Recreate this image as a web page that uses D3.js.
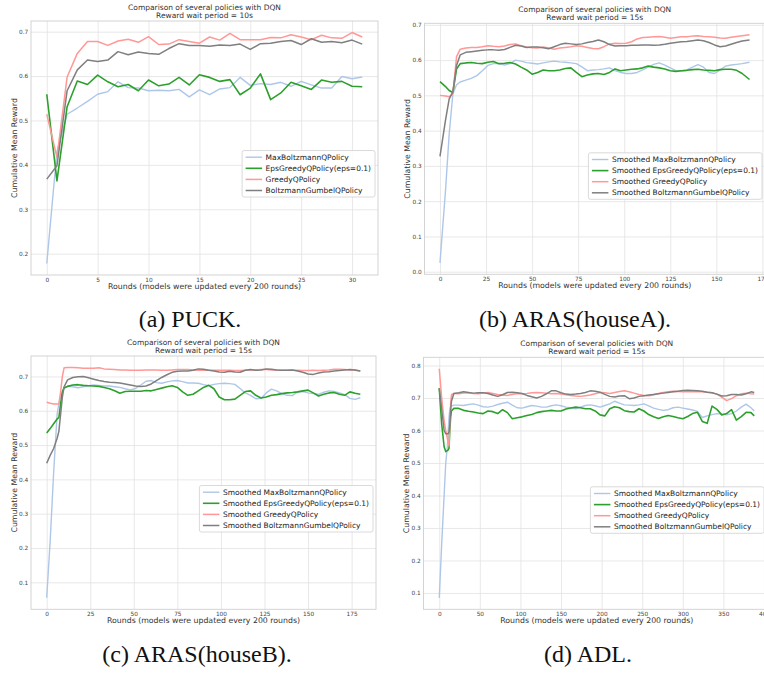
<!DOCTYPE html>
<html>
<head>
<meta charset="utf-8">
<script src="https://d3js.org/d3.v7.min.js"></script>
<style>
  body { margin: 0; background: #fff; }
  svg { display: block; }
</style>
</head>
<body>
<div id="chart"></div>
<script>
// ---- data ----
var policyNames = ["MaxBoltzmannQPolicy", "EpsGreedyQPolicy(eps=0.1)", "GreedyQPolicy", "BoltzmannGumbelQPolicy"];
var smoothedNames = ["Smoothed MaxBoltzmannQPolicy", "Smoothed EpsGreedyQPolicy(eps=0.1)", "Smoothed GreedyQPolicy", "Smoothed BoltzmannGumbelQPolicy"];
var titleLine = "Comparison of several policies with DQN";
var waitPeriods = ["10s", "15s", "15s", "15s"];
var captions = ["(a) PUCK.", "(b) ARAS(houseA).", "(c) ARAS(houseB).", "(d) ADL."];
var xLabel = "Rounds (models were updated every 200 rounds)";
var yLabel = "Cumulative Mean Reward";

// (a) PUCK
var puckRounds = [0, 1, 2, 3, 4, 5, 6, 7, 8, 9, 10, 11, 12, 13, 14, 15, 16, 17, 18, 19, 20, 21, 22, 23, 24, 25, 26, 27, 28, 29, 30, 31];
var puckMaxBoltzmann = [0.178, 0.43, 0.514, 0.528, 0.543, 0.559, 0.565, 0.587, 0.574, 0.573, 0.567, 0.568, 0.567, 0.570, 0.553, 0.569, 0.558, 0.571, 0.574, 0.597, 0.579, 0.583, 0.581, 0.586, 0.577, 0.588, 0.580, 0.573, 0.573, 0.599, 0.594, 0.598];
var puckEpsGreedy = [0.559, 0.364, 0.531, 0.589, 0.581, 0.602, 0.587, 0.576, 0.581, 0.567, 0.591, 0.578, 0.582, 0.597, 0.580, 0.603, 0.597, 0.588, 0.592, 0.558, 0.573, 0.605, 0.547, 0.562, 0.586, 0.578, 0.570, 0.591, 0.586, 0.588, 0.577, 0.576];
var puckGreedy = [0.514, 0.417, 0.598, 0.651, 0.678, 0.678, 0.669, 0.679, 0.683, 0.676, 0.689, 0.671, 0.672, 0.682, 0.678, 0.674, 0.688, 0.681, 0.696, 0.682, 0.682, 0.682, 0.687, 0.686, 0.693, 0.688, 0.682, 0.692, 0.686, 0.685, 0.698, 0.688];
var puckGumbel = [0.368, 0.398, 0.567, 0.614, 0.636, 0.633, 0.636, 0.655, 0.648, 0.654, 0.651, 0.649, 0.662, 0.673, 0.669, 0.669, 0.667, 0.670, 0.669, 0.672, 0.660, 0.673, 0.674, 0.678, 0.680, 0.671, 0.684, 0.676, 0.678, 0.675, 0.681, 0.672];
var puckXTicks = [0, 5, 10, 15, 20, 25, 30];
var puckYTicks = [0.2, 0.3, 0.4, 0.5, 0.6, 0.7];

// (b) ARAS houseA
var arasARounds = [0, 3, 5, 7, 9, 11,
  14, 17, 20, 23, 26, 29, 32, 35, 38, 41,
  44, 47, 50, 53, 56, 59, 62, 65, 68, 71,
  74, 77, 80, 83, 86, 89, 92, 95, 98, 101,
  104, 107, 110, 113, 116, 119, 122, 125, 128, 131,
  134, 137, 140, 143, 146, 149, 152, 155, 158, 161,
  164, 168];
var arasAMaxBoltzmann = [0.025, 0.23, 0.39, 0.505, 0.530, 0.538,
  0.543, 0.548, 0.556, 0.570, 0.585, 0.590, 0.590, 0.586, 0.590, 0.600,
  0.597, 0.593, 0.591, 0.589, 0.592, 0.595, 0.597, 0.595, 0.594, 0.592,
  0.590, 0.581, 0.570, 0.572, 0.573, 0.575, 0.578, 0.570, 0.565, 0.562,
  0.562, 0.565, 0.572, 0.580, 0.588, 0.592, 0.586, 0.578, 0.570, 0.569,
  0.572, 0.580, 0.587, 0.580, 0.565, 0.562, 0.572, 0.583, 0.586, 0.588,
  0.590, 0.594];
var arasAEpsGreedy = [0.539, 0.525, 0.514, 0.508, 0.575, 0.590,
  0.592, 0.593, 0.591, 0.590, 0.594, 0.596, 0.590, 0.591, 0.593, 0.589,
  0.580, 0.572, 0.560, 0.565, 0.572, 0.570, 0.570, 0.572, 0.576, 0.578,
  0.565, 0.553, 0.558, 0.561, 0.562, 0.559, 0.565, 0.575, 0.570, 0.572,
  0.574, 0.575, 0.578, 0.583, 0.580, 0.578, 0.575, 0.570, 0.568, 0.570,
  0.571, 0.573, 0.574, 0.572, 0.571, 0.570, 0.573, 0.574, 0.574, 0.571,
  0.562, 0.545];
var arasAGreedy = [0.500, 0.498, 0.496, 0.505, 0.610, 0.631,
  0.634, 0.636, 0.636, 0.638, 0.641, 0.639, 0.638, 0.640, 0.644, 0.646,
  0.641, 0.637, 0.635, 0.634, 0.637, 0.634, 0.631, 0.634, 0.636, 0.638,
  0.641, 0.639, 0.636, 0.633, 0.632, 0.638, 0.646, 0.648, 0.647, 0.648,
  0.652, 0.660, 0.664, 0.665, 0.666, 0.667, 0.665, 0.662, 0.664, 0.666,
  0.666, 0.668, 0.669, 0.667, 0.666, 0.665, 0.663, 0.662, 0.665, 0.667,
  0.669, 0.672];
var arasAGumbel = [0.327, 0.43, 0.49, 0.51, 0.585, 0.615,
  0.622, 0.624, 0.626, 0.628, 0.629, 0.629, 0.628, 0.630, 0.636, 0.642,
  0.640, 0.636, 0.637, 0.637, 0.635, 0.632, 0.638, 0.644, 0.648, 0.646,
  0.644, 0.646, 0.650, 0.653, 0.657, 0.652, 0.644, 0.640, 0.641, 0.641,
  0.642, 0.642, 0.643, 0.643, 0.642, 0.643, 0.645, 0.648, 0.650, 0.652,
  0.653, 0.655, 0.657, 0.655, 0.650, 0.643, 0.638, 0.640, 0.645, 0.650,
  0.654, 0.657];
var arasAXTicks = [0, 25, 50, 75, 100, 125, 150, 175];
var arasAYTicks = [0.0, 0.1, 0.2, 0.3, 0.4, 0.5, 0.6, 0.7];

// (c) ARAS houseB
var arasBRounds = [0, 2, 4, 6, 7, 8, 9, 10,
  12, 15, 18, 21, 24, 27, 30, 33, 36, 39,
  42, 45, 48, 51, 54, 57, 60, 63, 66, 69,
  72, 75, 78, 81, 84, 87, 90, 93, 96, 99,
  102, 105, 108, 111, 114, 117, 120, 123, 126, 129,
  132, 135, 138, 141, 144, 147, 150, 153, 156, 159,
  162, 165, 168, 171, 174, 177, 180];
var arasBMaxBoltzmann = [0.055, 0.22, 0.42, 0.59, 0.62, 0.64, 0.655, 0.665,
  0.672, 0.670, 0.667, 0.670, 0.673, 0.675, 0.674, 0.672, 0.672, 0.670,
  0.668, 0.664, 0.661, 0.665, 0.675, 0.686, 0.688, 0.682, 0.680, 0.684,
  0.687, 0.688, 0.685, 0.681, 0.681, 0.680, 0.676, 0.673, 0.677, 0.679,
  0.680, 0.679, 0.677, 0.665, 0.652, 0.645, 0.635, 0.636, 0.652, 0.663,
  0.658, 0.650, 0.645, 0.644, 0.655, 0.656, 0.652, 0.650, 0.648, 0.654,
  0.658, 0.656, 0.652, 0.647, 0.636, 0.633, 0.638];
var arasBEpsGreedy = [0.535, 0.548, 0.562, 0.576, 0.580, 0.620, 0.655, 0.667,
  0.671, 0.675, 0.676, 0.674, 0.673, 0.672, 0.671, 0.668, 0.664, 0.658,
  0.651, 0.656, 0.657, 0.657, 0.657, 0.659, 0.658, 0.662, 0.666, 0.670,
  0.673, 0.668, 0.655, 0.645, 0.648, 0.658, 0.668, 0.674, 0.664, 0.640,
  0.632, 0.632, 0.634, 0.645, 0.656, 0.658, 0.645, 0.637, 0.640, 0.645,
  0.647, 0.650, 0.652, 0.653, 0.655, 0.658, 0.660, 0.652, 0.643, 0.648,
  0.652, 0.653, 0.648, 0.645, 0.655, 0.651, 0.648];
var arasBGreedy = [0.625, 0.622, 0.620, 0.620, 0.620, 0.655, 0.700, 0.725,
  0.726, 0.726, 0.725, 0.724, 0.724, 0.724, 0.725, 0.722, 0.721, 0.720,
  0.719, 0.719, 0.718, 0.718, 0.718, 0.719, 0.719, 0.719, 0.718, 0.718,
  0.719, 0.720, 0.720, 0.720, 0.719, 0.718, 0.718, 0.718, 0.718, 0.718,
  0.718, 0.718, 0.717, 0.717, 0.718, 0.719, 0.719, 0.720, 0.720, 0.719,
  0.719, 0.718, 0.718, 0.718, 0.718, 0.717, 0.717, 0.718, 0.717, 0.718,
  0.719, 0.721, 0.721, 0.720, 0.719, 0.718, 0.716];
var arasBGumbel = [0.447, 0.47, 0.49, 0.52, 0.54, 0.59, 0.64, 0.67,
  0.690, 0.697, 0.699, 0.700, 0.696, 0.692, 0.688, 0.685, 0.683, 0.682,
  0.681, 0.678, 0.675, 0.672, 0.671, 0.672, 0.678, 0.688, 0.697, 0.705,
  0.712, 0.715, 0.716, 0.716, 0.718, 0.722, 0.721, 0.718, 0.716, 0.713,
  0.712, 0.715, 0.713, 0.712, 0.718, 0.720, 0.718, 0.719, 0.722, 0.721,
  0.719, 0.718, 0.718, 0.719, 0.716, 0.712, 0.707, 0.706, 0.710, 0.713,
  0.714, 0.716, 0.717, 0.719, 0.720, 0.719, 0.716];
var arasBXTicks = [0, 25, 50, 75, 100, 125, 150, 175];
var arasBYTicks = [0.1, 0.2, 0.3, 0.4, 0.5, 0.6, 0.7];

// (d) ADL
var adlRounds = [0, 3, 6, 8, 10, 11, 12, 13, 14, 15, 18,
  24, 30, 36, 42, 48, 54, 60, 66, 72, 78,
  84, 90, 96, 102, 108, 114, 120, 126, 132, 138,
  144, 150, 156, 162, 168, 174, 180, 186, 192, 198,
  204, 210, 216, 222, 228, 234, 240, 246, 252, 258,
  264, 270, 276, 282, 288, 294, 300, 306, 312, 318,
  324, 330, 336, 342, 348, 354, 360, 366, 372, 378,
  384, 388];
var adlMaxBoltzmann = [0.085, 0.25, 0.40, 0.50, 0.55, 0.60, 0.64, 0.665, 0.672, 0.675, 0.678,
  0.678, 0.677, 0.680, 0.682, 0.678, 0.673, 0.672, 0.675, 0.680, 0.684,
  0.687, 0.678, 0.670, 0.669, 0.673, 0.677, 0.675, 0.672, 0.672, 0.676,
  0.679, 0.676, 0.672, 0.670, 0.667, 0.672, 0.677, 0.679, 0.676, 0.672,
  0.677, 0.682, 0.690, 0.684, 0.679, 0.678, 0.677, 0.679, 0.682, 0.676,
  0.669, 0.665, 0.662, 0.664, 0.670, 0.672, 0.669, 0.666, 0.663, 0.659,
  0.640, 0.645, 0.649, 0.652, 0.651, 0.648, 0.652, 0.660, 0.672, 0.681,
  0.670, 0.660];
var adlEpsGreedy = [0.73, 0.62, 0.55, 0.535, 0.538, 0.54, 0.545, 0.60, 0.64, 0.66, 0.668,
  0.668, 0.662, 0.659, 0.657, 0.654, 0.652, 0.660, 0.658, 0.652, 0.664,
  0.655, 0.636, 0.639, 0.642, 0.646, 0.649, 0.655, 0.658, 0.660, 0.662,
  0.660, 0.660, 0.666, 0.669, 0.672, 0.670, 0.667, 0.667, 0.660, 0.648,
  0.645, 0.667, 0.673, 0.670, 0.661, 0.658, 0.657, 0.667, 0.660, 0.649,
  0.642, 0.637, 0.642, 0.646, 0.643, 0.639, 0.636, 0.643, 0.652, 0.656,
  0.628, 0.622, 0.675, 0.665, 0.648, 0.652, 0.664, 0.632, 0.643, 0.656,
  0.655, 0.645];
var adlGreedy = [0.79, 0.70, 0.63, 0.60, 0.575, 0.56, 0.553, 0.62, 0.68, 0.71, 0.714,
  0.713, 0.715, 0.716, 0.714, 0.713, 0.715, 0.717, 0.714, 0.711, 0.709,
  0.708, 0.711, 0.714, 0.713, 0.714, 0.716, 0.717, 0.716, 0.715, 0.713,
  0.714, 0.712, 0.710, 0.708, 0.706, 0.705, 0.707, 0.709, 0.713, 0.717,
  0.716, 0.714, 0.717, 0.720, 0.722, 0.719, 0.715, 0.711, 0.708, 0.707,
  0.710, 0.714, 0.717, 0.719, 0.721, 0.720, 0.719, 0.719, 0.720, 0.719,
  0.719, 0.718, 0.716, 0.712, 0.703, 0.692, 0.698, 0.707, 0.713, 0.715,
  0.713, 0.712];
var adlGumbel = [0.73, 0.665, 0.60, 0.59, 0.59, 0.59, 0.595, 0.62, 0.66, 0.69, 0.714,
  0.716, 0.719, 0.717, 0.715, 0.716, 0.716, 0.714, 0.709, 0.705, 0.710,
  0.717, 0.718, 0.716, 0.714, 0.708, 0.704, 0.700, 0.705, 0.713, 0.722,
  0.722, 0.716, 0.712, 0.711, 0.712, 0.714, 0.717, 0.722, 0.721, 0.718,
  0.711, 0.705, 0.703, 0.706, 0.707, 0.698, 0.700, 0.705, 0.707, 0.709,
  0.711, 0.713, 0.715, 0.717, 0.719, 0.721, 0.723, 0.724, 0.723, 0.722,
  0.721, 0.718, 0.716, 0.712, 0.706, 0.707, 0.711, 0.711, 0.709, 0.713,
  0.719, 0.717];
var adlXTicks = [0, 50, 100, 150, 200, 250, 300, 350, 400];
var adlYTicks = [0.1, 0.2, 0.3, 0.4, 0.5, 0.6, 0.7, 0.8];

// ---- styling ----
var colors = ["#aec7e8", "#2ca02c", "#ff9896", "#7f7f7f"];
var widths = [1.4, 1.6, 1.5, 1.5];
var font = "'DejaVu Sans', sans-serif";

var panels = [
  { rounds: puckRounds, series: [puckMaxBoltzmann, puckEpsGreedy, puckGreedy, puckGumbel], names: policyNames,
    xTicks: puckXTicks, yTicks: puckYTicks, frame: { left: 31, right: 378, top: 21, bottom: 275 }, cap: [190, 327] },
  { rounds: arasARounds, series: [arasAMaxBoltzmann, arasAEpsGreedy, arasAGreedy, arasAGumbel], names: smoothedNames,
    xTicks: arasAXTicks, yTicks: arasAYTicks, frame: { left: 424.5, right: 765, top: 23.3, bottom: 274.3 }, cap: [575, 327] },
  { rounds: arasBRounds, series: [arasBMaxBoltzmann, arasBEpsGreedy, arasBGreedy, arasBGumbel], names: smoothedNames,
    xTicks: arasBXTicks, yTicks: arasBYTicks, frame: { left: 31, right: 376, top: 356, bottom: 609.3 }, cap: [197, 662] },
  { rounds: adlRounds, series: [adlMaxBoltzmann, adlEpsGreedy, adlGreedy, adlGumbel], names: smoothedNames,
    xTicks: adlXTicks, yTicks: adlYTicks, frame: { left: 423.5, right: 770, top: 357.3, bottom: 609.3 }, cap: [588, 662] }
];

var svg = d3.select("#chart")
  .append("svg")
  .attr("width", 764)
  .attr("height", 675);

// matplotlib style 5% margins
function padded(ext) {
  var m = (ext[1] - ext[0]) * 0.05;
  return [ext[0] - m, ext[1] + m];
}

panels.forEach(function (p, i) {
  var f = p.frame;
  var w = f.right - f.left;
  var h = f.bottom - f.top;

  var x = d3.scaleLinear()
    .domain(padded(d3.extent(p.rounds)))
    .range([f.left, f.right]);

  var y = d3.scaleLinear()
    .domain(padded(d3.extent(d3.merge(p.series))))
    .range([f.bottom, f.top]);

  var g = svg.append("g");

  g.append("clipPath")
    .attr("id", "clip" + i)
    .append("rect")
    .attr("x", f.left)
    .attr("y", f.top)
    .attr("width", w)
    .attr("height", h);

  // X grid + tick labels
  var xAxis = g.append("g")
    .attr("transform", "translate(0," + f.bottom + ")")
    .call(d3.axisBottom(x).tickValues(p.xTicks).tickSize(-h).tickPadding(2.6).tickFormat(d3.format("d")));

  // Y grid + tick labels
  var yAxis = g.append("g")
    .attr("transform", "translate(" + f.left + ",0)")
    .call(d3.axisLeft(y).tickValues(p.yTicks).tickSize(-w).tickPadding(2.8).tickFormat(d3.format(".1f")));

  [xAxis, yAxis].forEach(function (ax) {
    ax.select(".domain").remove();
    ax.selectAll("line").attr("stroke", "#e2e2e2").attr("stroke-width", 0.8);
    ax.selectAll("text")
      .attr("fill", "#444")
      .attr("font-family", font)
      .attr("font-size", "5.8px");
  });

  // Lines
  var line = d3.line()
    .x(function (d, j) { return x(p.rounds[j]); })
    .y(function (d) { return y(d); });

  g.append("g")
    .attr("clip-path", "url(#clip" + i + ")")
    .selectAll("path")
    .data(p.series)
    .enter()
    .append("path")
    .attr("d", line)
    .attr("fill", "none")
    .attr("stroke", function (d, j) { return colors[j]; })
    .attr("stroke-width", function (d, j) { return widths[j]; })
    .attr("stroke-linejoin", "round");

  // Frame
  g.append("rect")
    .attr("x", f.left)
    .attr("y", f.top)
    .attr("width", w)
    .attr("height", h)
    .attr("fill", "none")
    .attr("stroke", "#cfcfcf")
    .attr("stroke-width", 0.9);

  // Title
  var cx = (f.left + f.right) / 2;
  g.append("text")
    .attr("x", cx)
    .attr("y", f.top - 11.3)
    .attr("text-anchor", "middle")
    .attr("font-family", font)
    .attr("font-size", "7.5px")
    .attr("fill", "#333")
    .text(titleLine);

  g.append("text")
    .attr("x", cx)
    .attr("y", f.top - 3)
    .attr("text-anchor", "middle")
    .attr("font-family", font)
    .attr("font-size", "7.5px")
    .attr("fill", "#333")
    .text("Reward wait period = " + waitPeriods[i]);

  // Axis labels
  g.append("text")
    .attr("x", cx)
    .attr("y", f.bottom + 13.5)
    .attr("text-anchor", "middle")
    .attr("font-family", font)
    .attr("font-size", "7.8px")
    .attr("fill", "#333")
    .text(xLabel);

  g.append("text")
    .attr("transform", "translate(" + (f.left - 14.5) + "," + (f.top + h / 2) + ") rotate(-90)")
    .attr("text-anchor", "middle")
    .attr("font-family", font)
    .attr("font-size", "7.8px")
    .attr("fill", "#333")
    .text(yLabel);

  // Legend
  var leg = g.append("g");
  var box = leg.append("rect");
  var rows = leg.selectAll("g")
    .data(p.names)
    .enter()
    .append("g")
    .attr("transform", function (d, j) { return "translate(0," + (6.7 + j * 11.1) + ")"; });

  rows.append("line")
    .attr("x1", 3.5)
    .attr("x2", 20)
    .attr("stroke", function (d, j) { return colors[j]; })
    .attr("stroke-width", function (d, j) { return widths[j]; });

  var labels = rows.append("text")
    .attr("x", 23.5)
    .attr("dy", "0.35em")
    .attr("font-family", font)
    .attr("font-size", "7.5px")
    .attr("fill", "#222")
    .text(function (d) { return d; });

  var tw = d3.max(labels.nodes(), function (n) { return n.getComputedTextLength(); });
  var bw = 23.5 + tw + 4;
  var right = Math.min(f.right - 3, 764);
  box.attr("width", bw)
    .attr("height", 46.5)
    .attr("rx", 2)
    .attr("fill", "#fff")
    .attr("fill-opacity", 0.85)
    .attr("stroke", "#d0d0d0")
    .attr("stroke-width", 0.8);
  leg.attr("transform", "translate(" + (right - bw) + "," + (f.top + 129.5) + ")");

  // Caption
  svg.append("text")
    .attr("x", p.cap[0])
    .attr("y", p.cap[1])
    .attr("text-anchor", "middle")
    .attr("font-family", "'Liberation Serif', 'DejaVu Serif', serif")
    .attr("font-size", "24px")
    .attr("fill", "#111")
    .text(captions[i]);
});
</script>
</body>
</html>
